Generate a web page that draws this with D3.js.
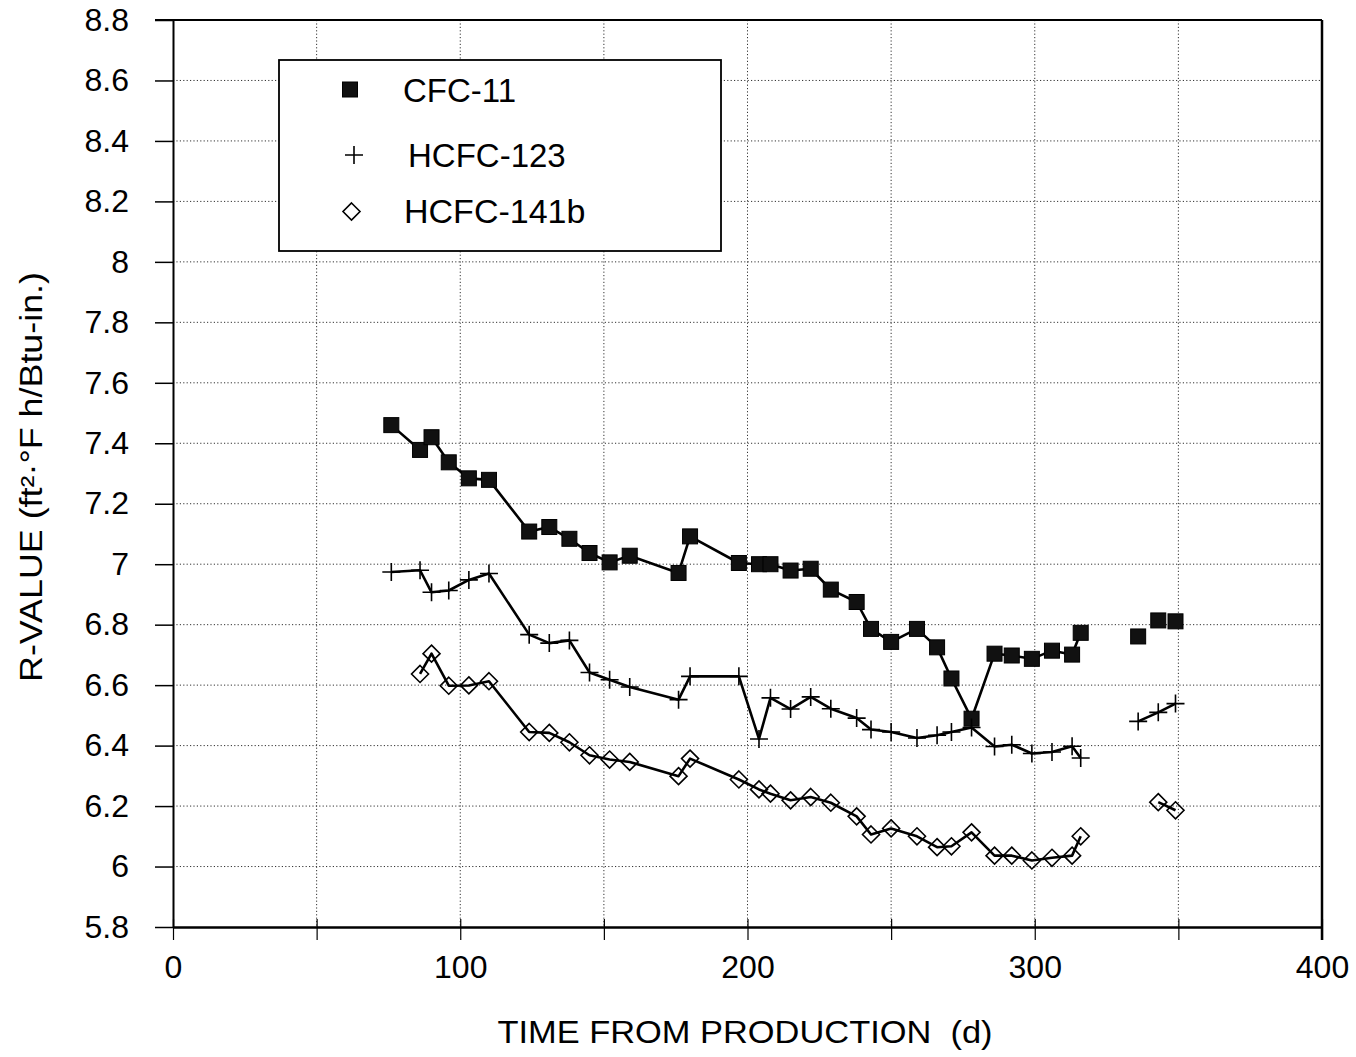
<!DOCTYPE html>
<html>
<head>
<meta charset="utf-8">
<script src="https://cdn.jsdelivr.net/npm/d3@7"></script>
<style>
body { margin: 0; background: #fff; }
svg { display: block; font-family: "Liberation Sans", Arial, Helvetica, sans-serif; }
.grid line { stroke: #333; stroke-width: 1; stroke-dasharray: 1.2,2.2; }
</style>
</head>
<body>
<svg width="1356" height="1057"></svg>
<script>
// measurement days (time from production, d)
var days = [76, 86, 90, 96, 103, 110, 124, 131, 138, 145, 152, 159, 176, 180, 197, 204, 208,
            215, 222, 229, 238, 243, 250, 259, 266, 271, 278, 286, 292, 299, 306, 313, 316,
            336, 343, 349];

// R-values, one per day (null = no reading)
var cfc11 = [7.46, 7.378, 7.42, 7.337, 7.284, 7.279, 7.108, 7.123, 7.084, 7.037, 7.006, 7.028,
             6.971, 7.092, 7.004, 7.0, 7.0, 6.979, 6.985, 6.916, 6.875, 6.786, 6.743, 6.786,
             6.725, 6.622, 6.489, 6.704, 6.698, 6.687, 6.714, 6.701, 6.773,
             6.761, 6.814, 6.811];
var hcfc123 = [6.974, 6.98, 6.907, 6.913, 6.948, 6.969, 6.767, 6.739, 6.748, 6.642, 6.618, 6.594,
               6.552, 6.629, 6.629, 6.422, 6.558, 6.521, 6.561, 6.522, 6.491, 6.453, 6.445, 6.425,
               6.434, 6.445, 6.46, 6.397, 6.403, 6.374, 6.379, 6.398, 6.359,
               6.48, 6.51, 6.539];
var hcfc141b = [null, 6.637, 6.704, 6.598, 6.599, 6.613, 6.445, 6.442, 6.411, 6.368, 6.354, 6.346,
                6.299, 6.357, 6.288, 6.255, 6.241, 6.219, 6.23, 6.211, 6.166, 6.106, 6.126, 6.1,
                6.064, 6.067, 6.113, 6.036, 6.036, 6.02, 6.029, 6.036, 6.1,
                null, 6.213, 6.186];

var seriesNames = ["CFC-11", "HCFC-123", "HCFC-141b"];
var seriesMarkers = ["square", "plus", "diamond"];
// readings from this day on are drawn as a separate run
var lateStart = 336;
var joinLate = [false, true, true];

var xTicks = [0, 50, 100, 150, 200, 250, 300, 350, 400];
var xLabels = [0, 100, 200, 300, 400];
var yTicks = [5.8, 6, 6.2, 6.4, 6.6, 6.8, 7, 7.2, 7.4, 7.6, 7.8, 8, 8.2, 8.4, 8.6, 8.8];

var Chart = {
    svg: d3.select("svg"),
    x: d3.scaleLinear().domain([0, 400]).range([173, 1322]),
    y: d3.scaleLinear().domain([5.8, 8.8]).range([927, 20]),

    // marker shapes
    marker: function(sel, kind) {
        if (kind == "square") {
            sel.append("rect")
                .attr("x", -7.5).attr("y", -7.5)
                .attr("width", 15).attr("height", 15)
                .attr("fill", "#111").attr("stroke", "#000").attr("stroke-width", 1);
        } else if (kind == "plus") {
            sel.append("path")
                .attr("d", "M-9,0H9M0,-9V9")
                .attr("fill", "none").attr("stroke", "#000").attr("stroke-width", 1.6);
        } else {
            sel.append("path")
                .attr("d", "M0,-8.5L8.5,0L0,8.5L-8.5,0Z")
                .attr("fill", "none").attr("stroke", "#000").attr("stroke-width", 1.6);
        }
    },

    drawGrid: function() {
        var x = Chart.x, y = Chart.y;
        var g = Chart.svg.append("g").attr("class", "grid");
        g.selectAll(".gx")
            .data(xTicks.slice(1, -1))
            .enter().append("line")
                .attr("x1", function(d) { return x(d); })
                .attr("x2", function(d) { return x(d); })
                .attr("y1", y(8.8)).attr("y2", y(5.8));
        g.selectAll(".gy")
            .data(yTicks.slice(1, -1))
            .enter().append("line")
                .attr("x1", x(0)).attr("x2", x(400))
                .attr("y1", function(d) { return y(d); })
                .attr("y2", function(d) { return y(d); });
    },

    drawAxes: function() {
        var x = Chart.x, y = Chart.y, svg = Chart.svg;

        var yAxis = d3.axisLeft(y)
            .tickValues(yTicks)
            .tickSize(18)
            .tickSizeOuter(0)
            .tickPadding(26)
            .tickFormat(function(d) { return String(+d.toFixed(1)); });
        var gy = svg.append("g").attr("transform", "translate(" + x(0) + ",0)").call(yAxis);
        gy.select(".domain").attr("stroke-width", 2);
        gy.selectAll(".tick line").attr("stroke-width", 1.5);
        gy.selectAll("text").attr("font-size", 32).attr("fill", "#000");

        var xAxis = d3.axisBottom(x)
            .tickValues(xTicks)
            .tickSize(13)
            .tickSizeOuter(0)
            .tickPadding(15)
            .tickFormat(function(d) { return xLabels.indexOf(d) >= 0 ? d : ""; });
        var gx = svg.append("g").attr("transform", "translate(0," + y(5.8) + ")").call(xAxis);
        gx.select(".domain").attr("stroke-width", 2.5);
        gx.selectAll(".tick line").attr("stroke-width", 1.2).attr("y1", -8);
        gx.selectAll("text").attr("font-size", 32).attr("fill", "#000");

        // top and right frame
        svg.append("line")
            .attr("x1", x(0) - 18).attr("x2", x(400))
            .attr("y1", y(8.8)).attr("y2", y(8.8))
            .attr("stroke", "#000").attr("stroke-width", 2);
        svg.append("line")
            .attr("x1", x(400)).attr("x2", x(400))
            .attr("y1", y(8.8)).attr("y2", y(5.8) + 13)
            .attr("stroke", "#000").attr("stroke-width", 2.5);

        // axis titles
        svg.append("text")
            .attr("x", 745).attr("y", 1043)
            .attr("text-anchor", "middle")
            .attr("font-size", 32)
            .attr("textLength", 495).attr("lengthAdjust", "spacingAndGlyphs")
            .text("TIME FROM PRODUCTION \u00a0(d)");
        svg.append("text")
            .attr("transform", "translate(42,477) rotate(-90)")
            .attr("text-anchor", "middle")
            .attr("font-size", 31)
            .attr("textLength", 410).attr("lengthAdjust", "spacingAndGlyphs")
            .text("R-VALUE (ft²·°F h/Btu-in.)");
    },

    drawSeries: function() {
        var x = Chart.x, y = Chart.y, svg = Chart.svg;
        var allValues = [cfc11, hcfc123, hcfc141b];
        var line = d3.line()
            .x(function(p) { return x(p.day); })
            .y(function(p) { return y(p.value); });

        allValues.forEach(function(vals, k) {
            var pts = days.map(function(d, i) { return {day: d, value: vals[i]}; })
                .filter(function(p) { return p.value != null; });
            var early = pts.filter(function(p) { return p.day < lateStart; });
            var late = pts.filter(function(p) { return p.day >= lateStart; });

            var runs = [early];
            if (joinLate[k]) runs.push(late);
            runs.forEach(function(run) {
                svg.append("path")
                    .datum(run)
                    .attr("d", line)
                    .attr("fill", "none")
                    .attr("stroke", "#000")
                    .attr("stroke-width", 2.6)
                    .attr("stroke-linejoin", "round");
            });

            svg.append("g").selectAll("g")
                .data(pts)
                .enter().append("g")
                    .attr("transform", function(p) {
                        return "translate(" + x(p.day) + "," + y(p.value) + ")";
                    })
                    .each(function() { Chart.marker(d3.select(this), seriesMarkers[k]); });
        });
    },

    drawLegend: function() {
        var svg = Chart.svg;
        var lg = svg.append("g");
        lg.append("rect")
            .attr("x", 279).attr("y", 60)
            .attr("width", 442).attr("height", 191)
            .attr("fill", "#fff").attr("stroke", "#000").attr("stroke-width", 1.8);

        var rows = [
            {sym: [350, 89.5], text: [403, 102], size: 33},
            {sym: [354, 155], text: [408, 167], size: 33},
            {sym: [351.5, 211.5], text: [404, 223], size: 34}
        ];
        seriesNames.forEach(function(name, k) {
            var r = rows[k];
            var m = lg.append("g").attr("transform", "translate(" + r.sym[0] + "," + r.sym[1] + ")");
            Chart.marker(m, seriesMarkers[k]);
            lg.append("text")
                .attr("x", r.text[0]).attr("y", r.text[1])
                .attr("font-size", r.size)
                .text(name);
        });
    }
};

Chart.drawGrid();
Chart.drawAxes();
Chart.drawSeries();
Chart.drawLegend();
</script>
</body>
</html>
